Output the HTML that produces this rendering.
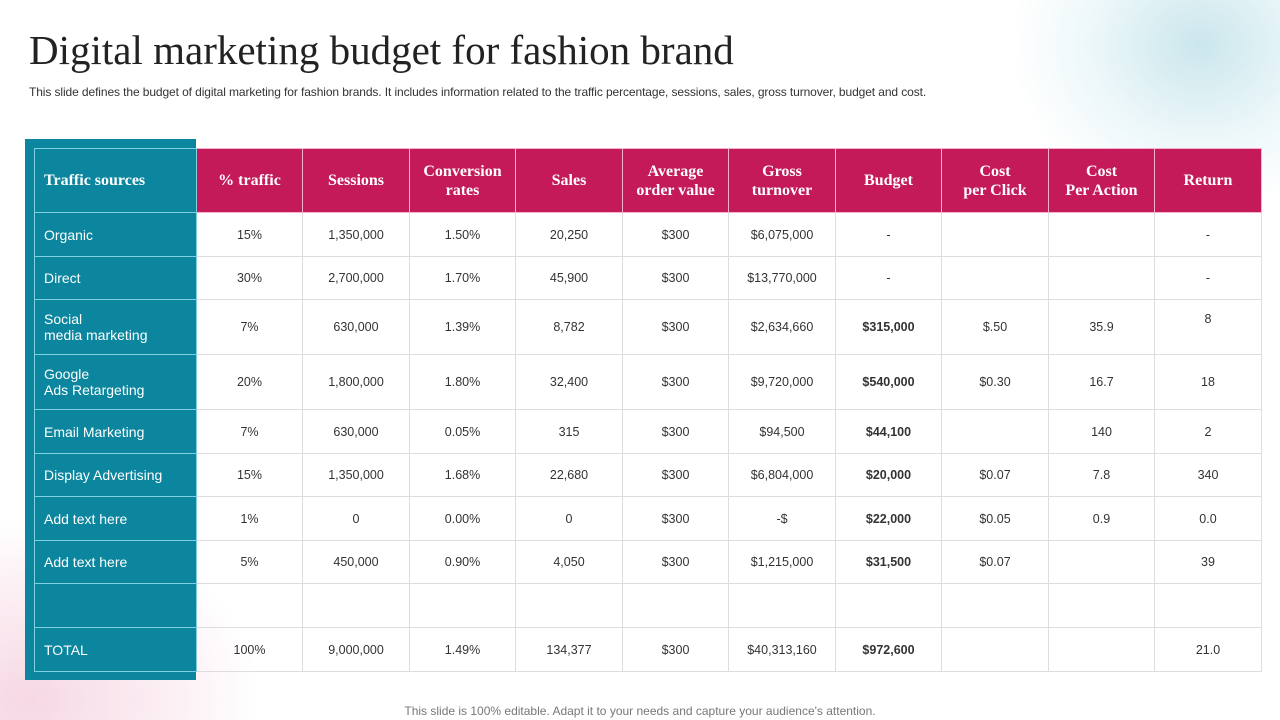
<!DOCTYPE html>
<html style="width:1280px;height:720px;overflow:hidden;margin:0"><head><meta charset="utf-8"><style>
body{margin:0;width:1280px;height:720px;overflow:hidden;position:relative;font-family:"Liberation Sans",sans-serif;
background:radial-gradient(ellipse 190px 165px at 1200px 45px,rgba(160,210,222,.55),rgba(200,232,238,.3) 60%,rgba(255,255,255,0)),radial-gradient(ellipse 230px 180px at 30px 700px,rgba(240,190,210,.6),rgba(246,215,228,.4) 60%,rgba(255,255,255,0)),#fff;}
h1{position:absolute;left:29px;top:26px;margin:0;font-family:"Liberation Serif",serif;font-weight:normal;font-size:41px;color:#222;white-space:nowrap;}
.sub{position:absolute;left:29px;top:85px;font-size:12px;color:#333;white-space:nowrap;letter-spacing:-0.1px;}
.foot{position:absolute;left:0;width:1280px;top:704px;text-align:center;font-size:12px;color:#777;}
.teal{position:absolute;left:25px;top:139px;width:171px;height:541px;background:#0b869e;}
table{position:absolute;left:34px;top:148px;border-collapse:collapse;table-layout:fixed;width:1227px;}
td,th{border:1px solid #ddd;text-align:center;font-size:12.5px;color:#333;padding:0;}
th{background:#c41a5a;color:#fff;font-family:"Liberation Serif",serif;font-size:16px;font-weight:bold;border:1px solid #f4b3cb;line-height:19px;}
td.s,th.s{background:#0b869e;color:#fff;text-align:left;padding-left:9px;border:1px solid #7fcfe0;font-size:14px;line-height:16px;}
th.s{font-size:16px;}
td.b{font-weight:bold;}
</style></head><body>
<h1>Digital marketing budget for fashion brand</h1>
<div class="sub">This slide defines the budget of digital marketing for fashion brands. It includes information related to the traffic percentage, sessions, sales, gross turnover, budget and cost.</div>
<div class="teal"></div>
<table>
<colgroup><col style="width:162px"><col style="width:106px"><col style="width:107px"><col style="width:106px"><col style="width:107px"><col style="width:106px"><col style="width:107px"><col style="width:106px"><col style="width:107px"><col style="width:106px"><col style="width:107px"></colgroup>
<tr style="height:64px"><th class="s">Traffic sources</th><th>% traffic</th><th>Sessions</th><th>Conversion<br>rates</th><th>Sales</th><th>Average<br>order value</th><th>Gross<br>turnover</th><th>Budget</th><th>Cost<br>per Click</th><th>Cost<br>Per Action</th><th>Return</th></tr>
<tr style="height:44px"><td class="s">Organic</td><td>15%</td><td>1,350,000</td><td>1.50%</td><td>20,250</td><td>$300</td><td>$6,075,000</td><td>-</td><td></td><td></td><td>-</td></tr>
<tr style="height:43px"><td class="s">Direct</td><td>30%</td><td>2,700,000</td><td>1.70%</td><td>45,900</td><td>$300</td><td>$13,770,000</td><td>-</td><td></td><td></td><td>-</td></tr>
<tr style="height:55px"><td class="s">Social<br>media marketing</td><td>7%</td><td>630,000</td><td>1.39%</td><td>8,782</td><td>$300</td><td>$2,634,660</td><td class="b">$315,000</td><td>$.50</td><td>35.9</td><td style="vertical-align:top;padding-top:12px">8</td></tr>
<tr style="height:55px"><td class="s">Google<br>Ads Retargeting</td><td>20%</td><td>1,800,000</td><td>1.80%</td><td>32,400</td><td>$300</td><td>$9,720,000</td><td class="b">$540,000</td><td>$0.30</td><td>16.7</td><td>18</td></tr>
<tr style="height:44px"><td class="s">Email Marketing</td><td>7%</td><td>630,000</td><td>0.05%</td><td>315</td><td>$300</td><td>$94,500</td><td class="b">$44,100</td><td></td><td>140</td><td>2</td></tr>
<tr style="height:43px"><td class="s">Display Advertising</td><td>15%</td><td>1,350,000</td><td>1.68%</td><td>22,680</td><td>$300</td><td>$6,804,000</td><td class="b">$20,000</td><td>$0.07</td><td>7.8</td><td>340</td></tr>
<tr style="height:44px"><td class="s">Add text here</td><td>1%</td><td>0</td><td>0.00%</td><td>0</td><td>$300</td><td>-$</td><td class="b">$22,000</td><td>$0.05</td><td>0.9</td><td>0.0</td></tr>
<tr style="height:43px"><td class="s">Add text here</td><td>5%</td><td>450,000</td><td>0.90%</td><td>4,050</td><td>$300</td><td>$1,215,000</td><td class="b">$31,500</td><td>$0.07</td><td></td><td>39</td></tr>
<tr style="height:44px"><td class="s"></td><td></td><td></td><td></td><td></td><td></td><td></td><td></td><td></td><td></td><td></td></tr>
<tr style="height:44px"><td class="s">TOTAL</td><td>100%</td><td>9,000,000</td><td>1.49%</td><td>134,377</td><td>$300</td><td>$40,313,160</td><td class="b">$972,600</td><td></td><td></td><td>21.0</td></tr>
</table>
<div class="foot">This slide is 100% editable. Adapt it to your needs and capture your audience's attention.</div>
</body></html>
